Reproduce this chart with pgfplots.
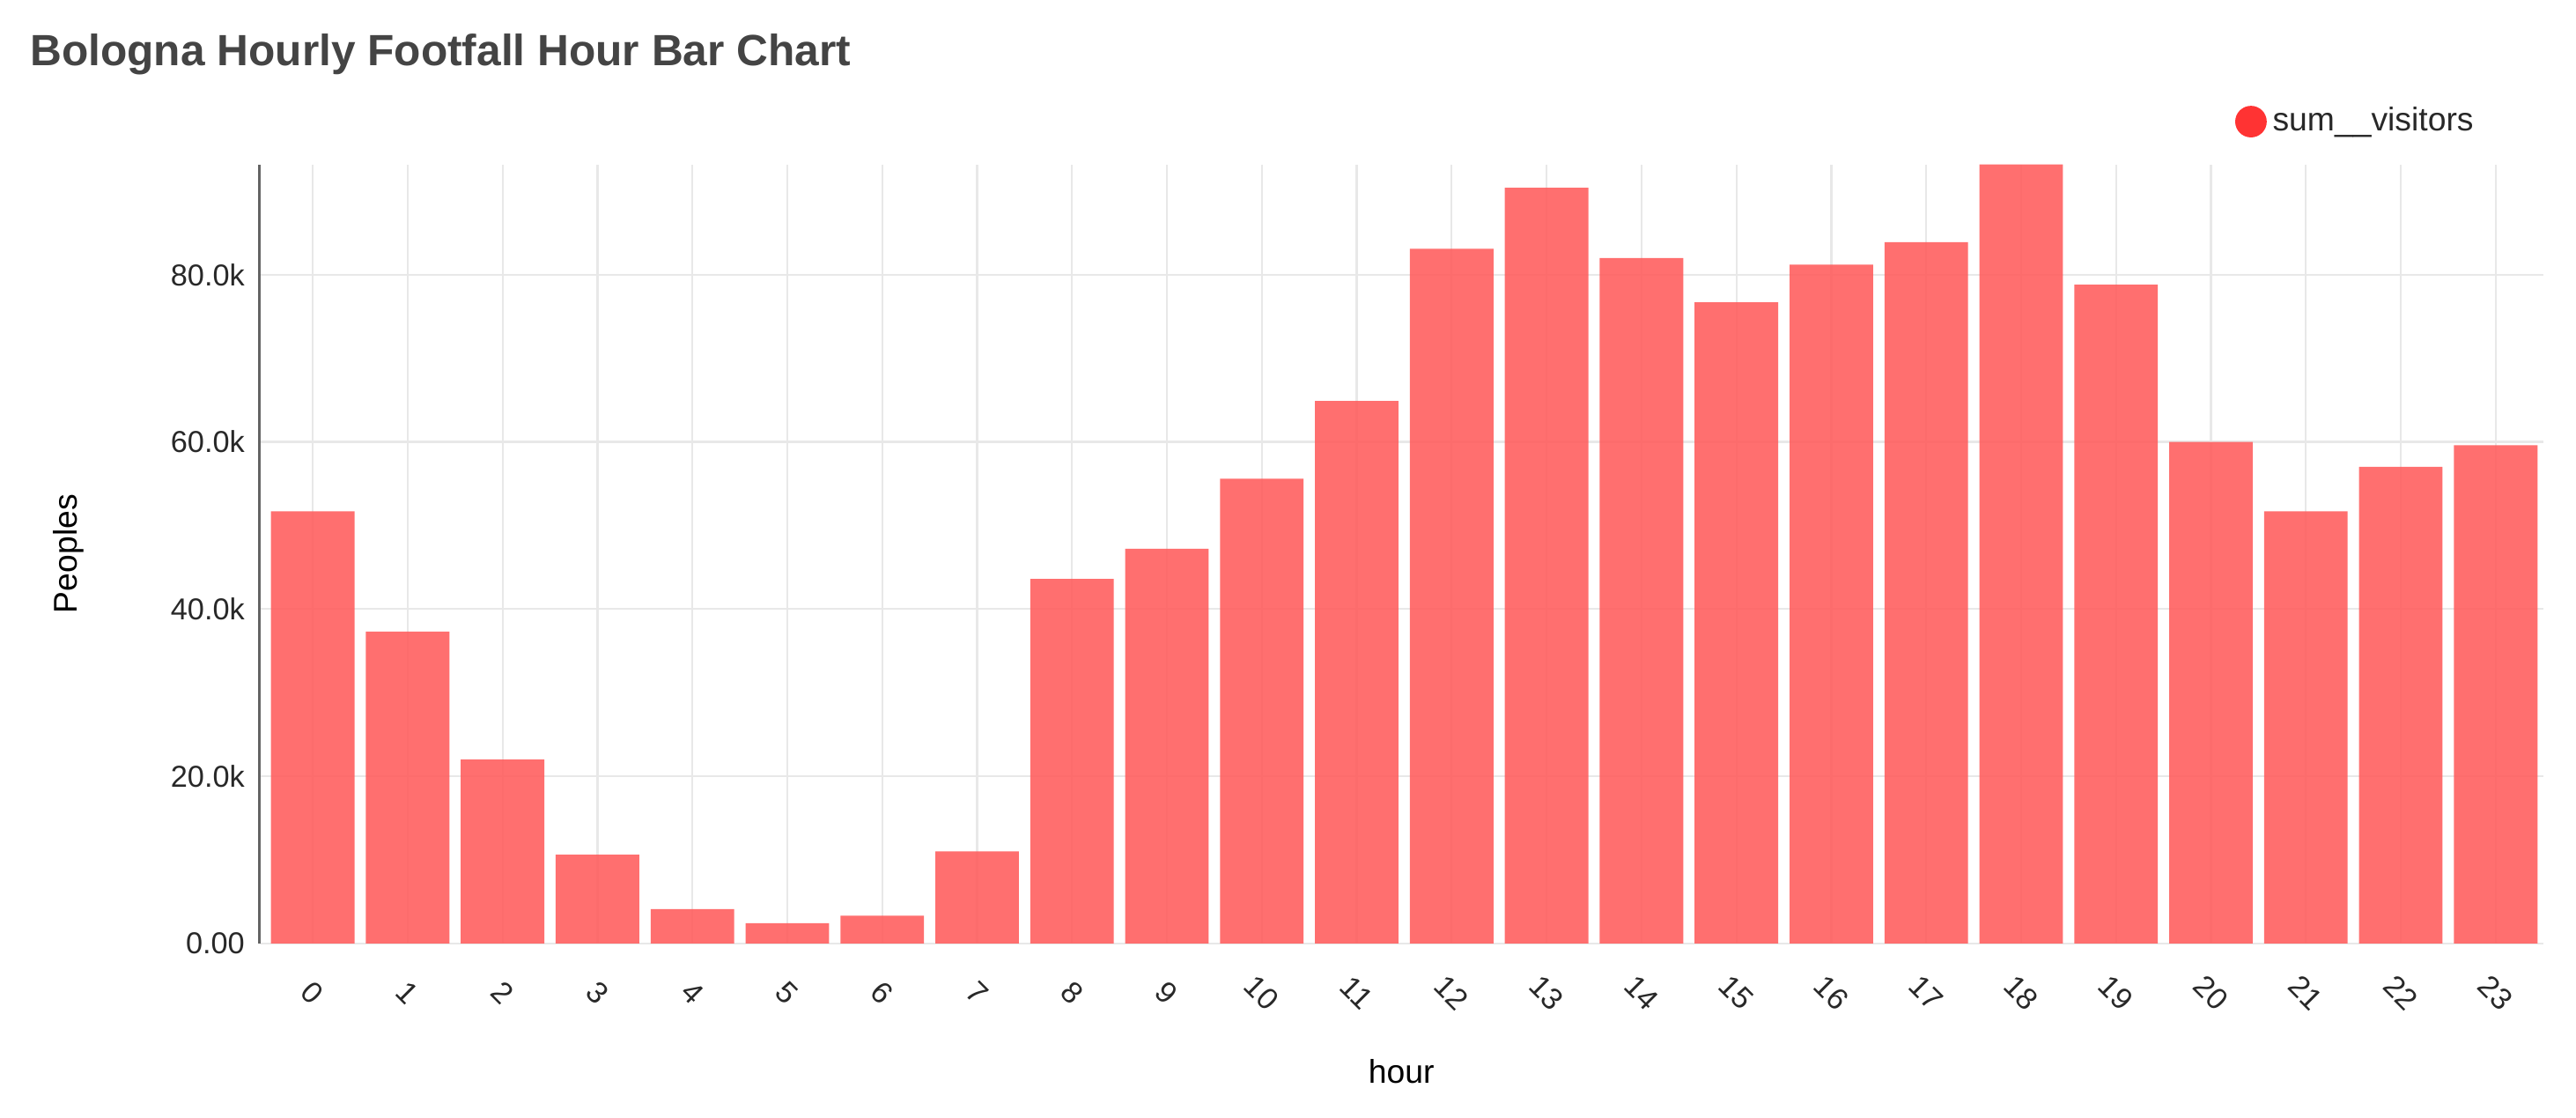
\documentclass[border=0pt]{standalone}
\usepackage{fontspec}
\setmainfont{Liberation Sans}
\usepackage{pgfplots}
\pgfplotsset{compat=1.18}
\definecolor{barred}{RGB}{255,95,95}
\definecolor{dotred}{RGB}{255,51,51}
\definecolor{gridgrey}{RGB}{232,232,232}
\definecolor{titlegrey}{RGB}{68,68,68}
\definecolor{axisgrey}{RGB}{100,100,100}
\definecolor{textgrey}{RGB}{40,40,40}

% hourly footfall, visitors summed per hour
\pgfplotstableread{
hour visitors
0  51700
1  37300
2  22000
3  10600
4  4100
5  2400
6  3300
7  11000
8  43600
9  47200
10 55600
11 64900
12 83100
13 90400
14 82000
15 76700
16 81200
17 83900
18 93200
19 78800
20 60000
21 51700
22 57000
23 59600
}\footfall

\begin{document}
\begin{tikzpicture}
\begin{axis}[
    scale only axis,
    width=695pt,
    height=237pt,
    xmin=-0.56, xmax=23.5,
    ymin=0, ymax=93200,
    xtick={0,...,23},
    ytick={0,20000,40000,60000,80000},
    yticklabels={0.00,20.0k,40.0k,60.0k,80.0k},
    scaled y ticks=false,
    /pgf/number format/assume math mode=true,
    major tick length=0pt,
    grid=major,
    major grid style={gridgrey, line width=0.6pt},
    axis x line*=bottom,
    axis y line*=left,
    x axis line style={draw=none},
    y axis line style={axisgrey, line width=0.9pt, -},
    tick label style={font=\fontsize{9.2}{11}\selectfont, text=textgrey},
    xticklabel style={anchor=center, inner sep=0pt, yshift=-15pt, rotate=-45},
    yticklabel style={xshift=-1pt},
    xlabel={hour},
    ylabel={Peoples},
    label style={font=\fontsize{10.5}{12}\selectfont, text=black},
    every axis x label/.style={at={(rel axis cs:0.5,0)}, anchor=center, yshift=-39pt},
    every axis y label/.style={at={(rel axis cs:0,0.5)}, anchor=center, xshift=-58pt, rotate=90},
    legend style={at={(1,1)}, anchor=east, xshift=-16pt, yshift=13pt,
        draw=none, fill=none, font=\fontsize{10}{12}\selectfont, text=textgrey},
    legend cell align=left,
]
\addplot[ybar, bar width=0.88, bar shift=0pt, fill=barred, fill opacity=0.9,
    draw=none, forget plot] table[x=hour, y=visitors] {\footfall};
\addlegendimage{only marks, mark=*, mark size=4.6pt, dotred}
\addlegendentry{sum\_\_visitors}
\end{axis}
\node[anchor=base west, inner sep=0, text=titlegrey,
    font=\bfseries\fontsize{13.3}{16}\selectfont]
    at ([xshift=-70pt, yshift=30pt]current axis.north west)
    {Bologna Hourly Footfall Hour Bar Chart};
\path ([xshift=-79pt, yshift=50pt]current axis.north west)
    rectangle ([xshift=10pt, yshift=-53pt]current axis.south east);
\end{tikzpicture}
\end{document}
